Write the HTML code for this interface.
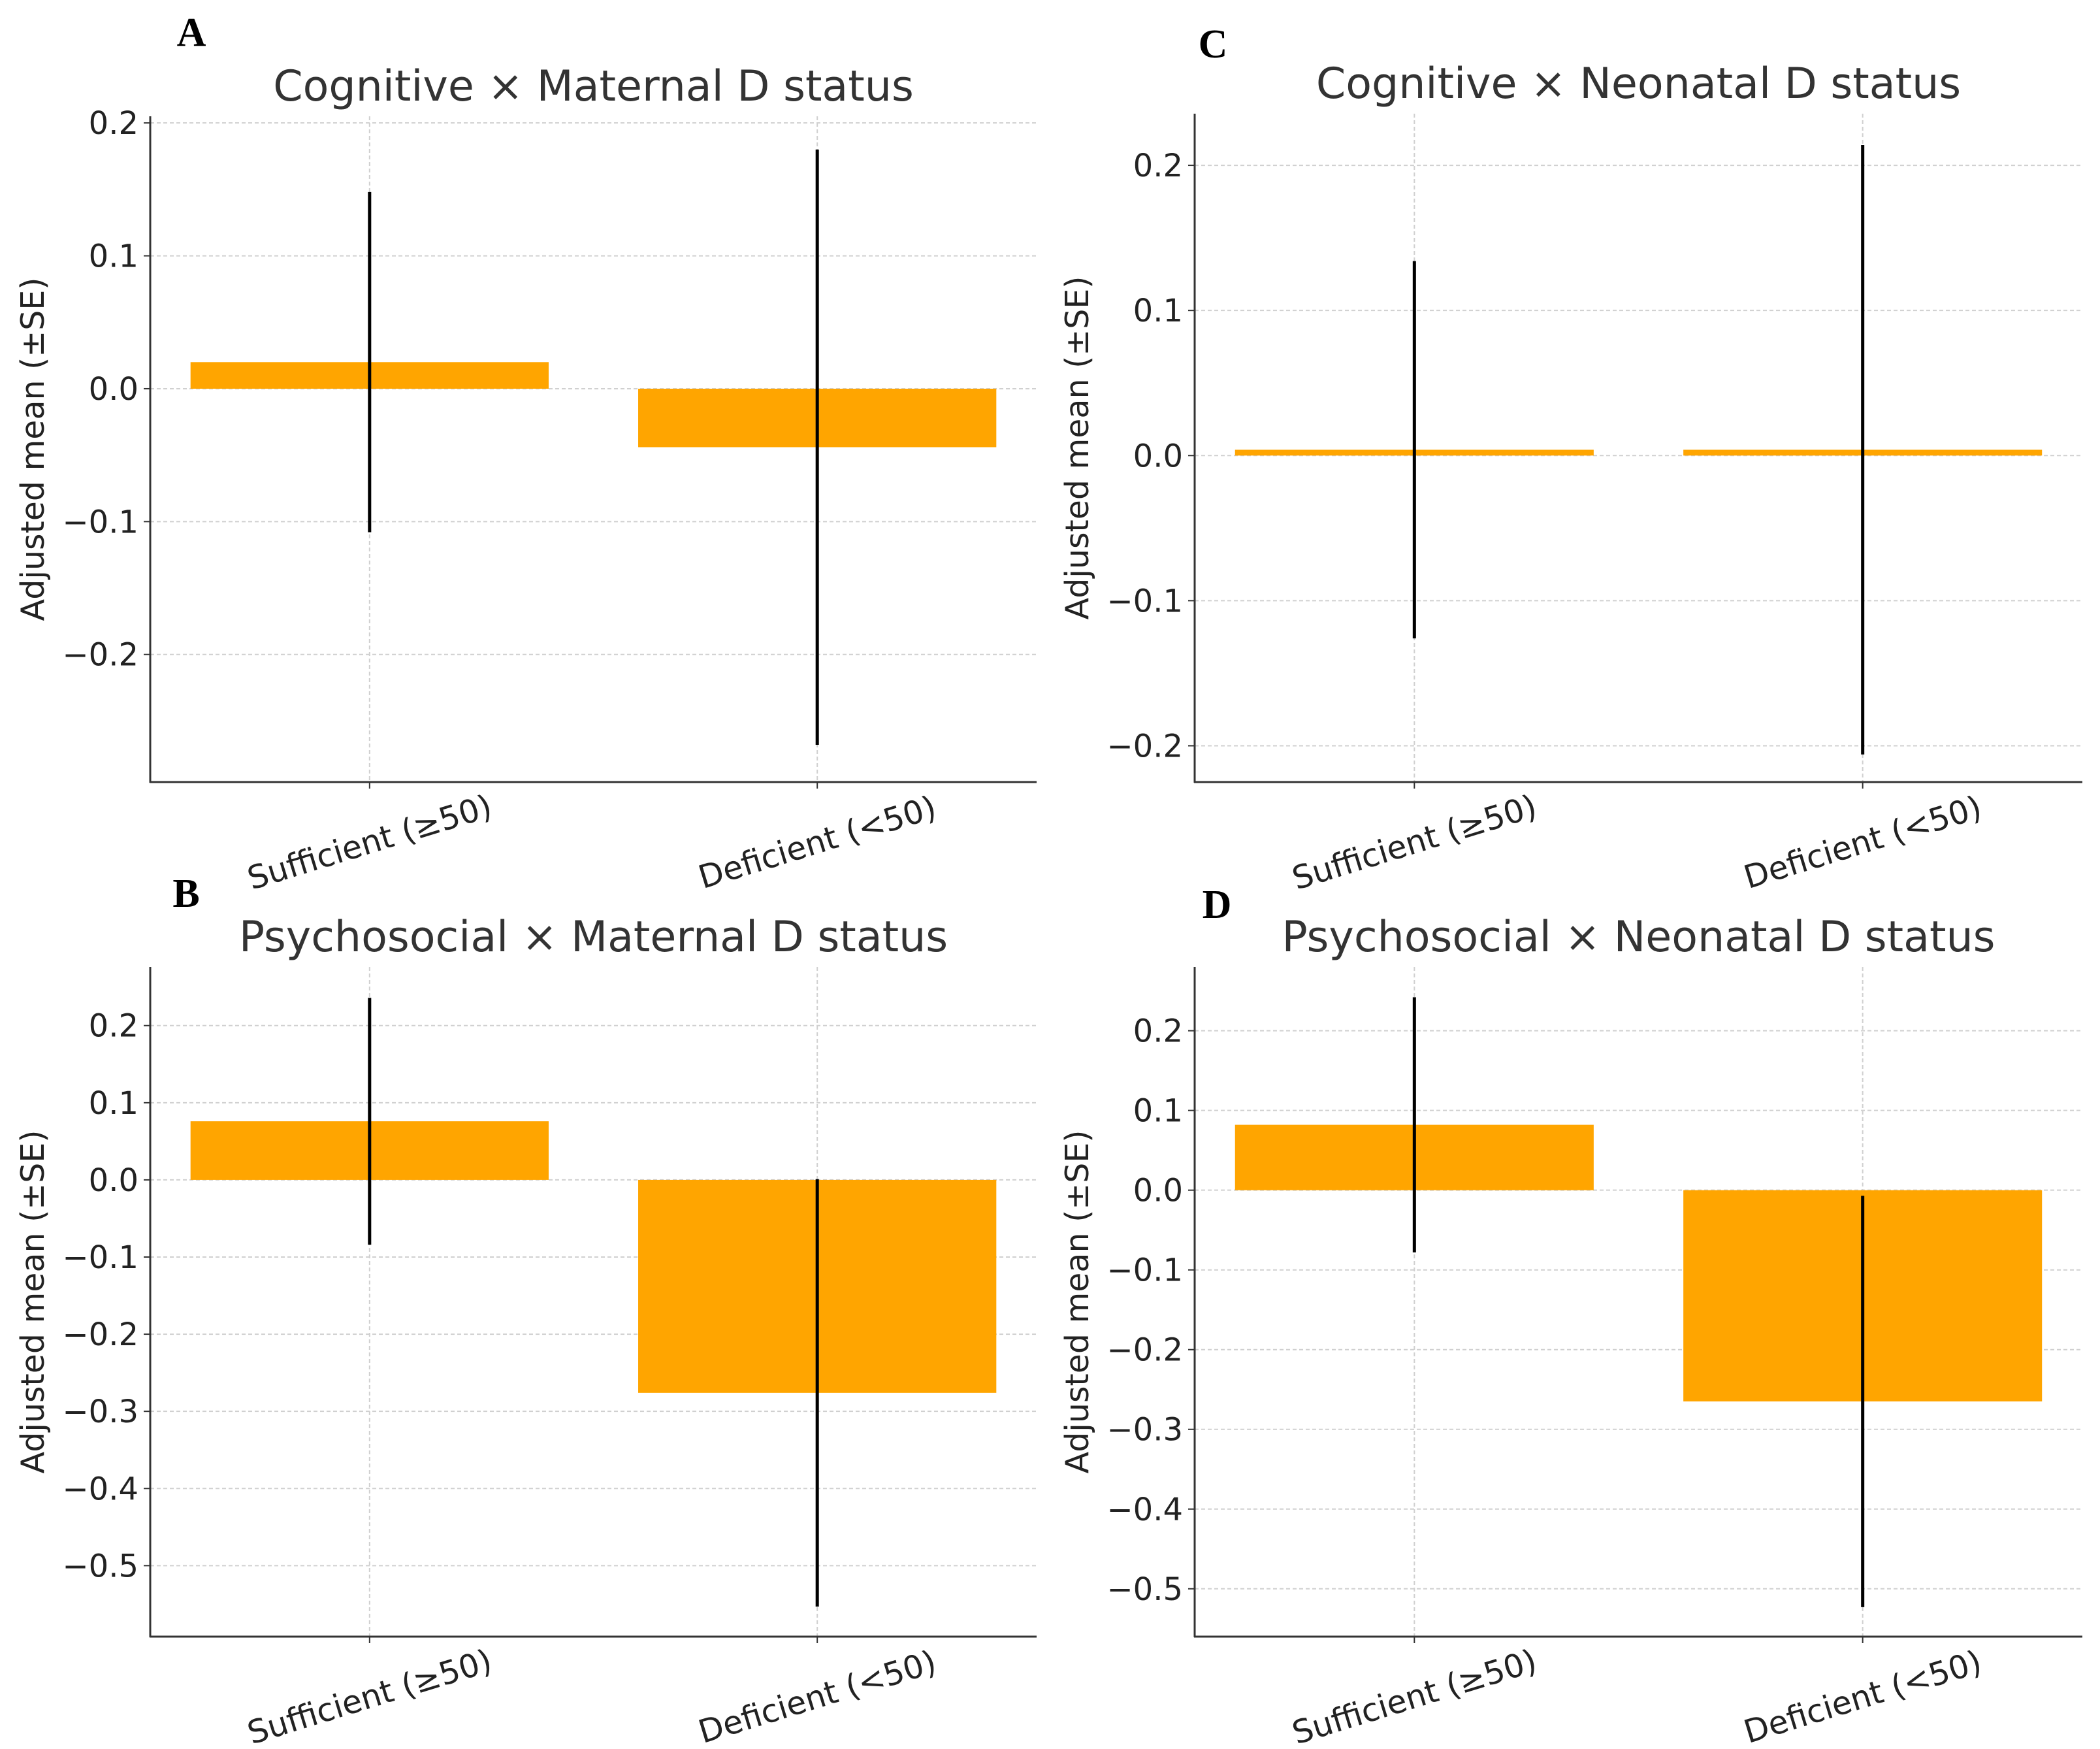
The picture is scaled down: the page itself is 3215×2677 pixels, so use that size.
<!DOCTYPE html>
<html><head><meta charset="utf-8"><style>
html,body{margin:0;padding:0;background:#fff;}
svg{display:block;font-family:"DejaVu Sans","Liberation Sans",sans-serif;}
</style></head><body>
<svg id="fig" width="3215" height="2677" viewBox="0 0 3215 2677" xmlns="http://www.w3.org/2000/svg"></svg>
<script>
// ---- data ----
const categories = ["Sufficient (\u226550)", "Deficient (<50)"];
const titlesArr = ["Cognitive \u00d7 Maternal D status","Psychosocial \u00d7 Maternal D status","Cognitive \u00d7 Neonatal D status","Psychosocial \u00d7 Neonatal D status"];
const letters = ["A","B","C","D"];
const meansA = [0.020, -0.044];
const seA = [0.128, 0.224];
const meansB = [0.076, -0.276];
const seB = [0.160, 0.277];
const meansC = [0.004, 0.004];
const seC = [0.130, 0.210];
const meansD = [0.082, -0.265];
const seD = [0.160, 0.258];
const ticksA = [-0.2,-0.1,0.0,0.1,0.2];
const ticksB = [-0.5,-0.4,-0.3,-0.2,-0.1,0.0,0.1,0.2];
const ticksC = [-0.2,-0.1,0.0,0.1,0.2];
const ticksD = [-0.5,-0.4,-0.3,-0.2,-0.1,0.0,0.1,0.2];
const tickLabelsA = ["\u22120.2","\u22120.1","0.0","0.1","0.2"];
const tickLabelsB = ["\u22120.5","\u22120.4","\u22120.3","\u22120.2","\u22120.1","0.0","0.1","0.2"];
const tickLabelsC = ["\u22120.2","\u22120.1","0.0","0.1","0.2"];
const tickLabelsD = ["\u22120.5","\u22120.4","\u22120.3","\u22120.2","\u22120.1","0.0","0.1","0.2"];

const NS="http://www.w3.org/2000/svg";
const svg=document.getElementById('fig');
function mk(tag,attrs,parent){const e=document.createElementNS(NS,tag);for(const k in attrs)e.setAttribute(k,attrs[k]);(parent||svg).appendChild(e);return e;}

const panels=[
 {key:'a',L:230,R:1587,T:178,B:1197,yd:[-0.296,0.205],means:meansA,se:seA,ticks:ticksA,tl:tickLabelsA,title:titlesArr[0],letter:letters[0],lx:293,ly:70},
 {key:'b',L:230,R:1587,T:1480,B:2505,yd:[-0.592,0.276],means:meansB,se:seB,ticks:ticksB,tl:tickLabelsB,title:titlesArr[1],letter:letters[1],lx:285,ly:1388},
 {key:'c',L:1829,R:3188,T:174,B:1197,yd:[-0.225,0.2356],means:meansC,se:seC,ticks:ticksC,tl:tickLabelsC,title:titlesArr[2],letter:letters[2],lx:1857,ly:88},
 {key:'d',L:1829,R:3188,T:1480,B:2505,yd:[-0.56,0.28],means:meansD,se:seD,ticks:ticksD,tl:tickLabelsD,title:titlesArr[3],letter:letters[3],lx:1863,ly:1405}
];
const xd=[-0.49,1.49];

panels.forEach(p=>{
  const g=mk('g',{});
  
  
  const X=v=>p.L+(v-xd[0])/(xd[1]-xd[0])*(p.R-p.L);
  const Y=v=>p.B-(v-p.yd[0])/(p.yd[1]-p.yd[0])*(p.B-p.T);
  p.ticks.forEach((t,i)=>{
    const y=Y(t);
    const gl=mk('line',{x1:p.L,x2:p.R,y1:y,y2:y,stroke:'#d0d0d0','stroke-width':2,'stroke-dasharray':'6,4'},g);
    
    
    const tk=mk('line',{x1:p.L-10,x2:p.L,y1:y,y2:y,stroke:'#333','stroke-width':2},g);
    
    
    const tx=mk('text',{x:p.L-18,y:y+17,'text-anchor':'end','font-size':48,fill:'#222'},g);
    tx.textContent=p.tl[i];
    
    
  });
  categories.forEach((c,i)=>{
    const x=X(i);
    const gl=mk('line',{x1:x,x2:x,y1:p.T,y2:p.B,stroke:'#d0d0d0','stroke-width':2,'stroke-dasharray':'6,4'},g);
    
    
  });
  p.means.forEach((m,i)=>{
    const x0=X(i-0.4), x1=X(i+0.4);
    const y0=Y(Math.max(m,0)), y1=Y(Math.min(m,0));
    const r=mk('rect',{x:x0,y:y0,width:x1-x0,height:Math.max(y1-y0,1),fill:'#FFA500'},g);
    
    
  });
  p.means.forEach((m,i)=>{
    const x=X(i);
    const e=mk('line',{x1:x,x2:x,y1:Y(m+p.se[i]),y2:Y(m-p.se[i]),stroke:'#000','stroke-width':5},g);
    
    
  });
  const sl=mk('line',{x1:p.L,x2:p.L,y1:p.T,y2:p.B+1,stroke:'#333','stroke-width':3},g);
  
  
  const sb=mk('line',{x1:p.L-1,x2:p.R,y1:p.B,y2:p.B,stroke:'#333','stroke-width':3},g);
  
  
  categories.forEach((c,i)=>{
    const x=X(i);
    const tk=mk('line',{x1:x,x2:x,y1:p.B,y2:p.B+10,stroke:'#333','stroke-width':2},g);
    
    
    const ty=p.B+92;
    const t=mk('text',{x:x,y:ty+17,'text-anchor':'middle','font-size':49,fill:'#222',transform:`rotate(-17 ${x} ${ty})`},g);
    t.textContent=c;
    
    
  });
  const yl=(p.T+p.B)/2;
  const yx=p.L-180;
  const ylab=mk('text',{x:yx,y:yl+17,'text-anchor':'middle','font-size':49,fill:'#222',transform:`rotate(-90 ${yx} ${yl})`},g);
  ylab.textContent='Adjusted mean (\u00b1SE)';
  
  
  const ti=mk('text',{x:(p.L+p.R)/2,y:p.T-24,'text-anchor':'middle','font-size':65,fill:'#333'},g);
  ti.textContent=p.title;
  
  
  const le=mk('text',{x:p.lx,y:p.ly,'text-anchor':'middle','font-size':62,'font-weight':'bold','font-family':'"Liberation Serif",serif',fill:'#000'},g);
  le.textContent=p.letter;
  
  
});
</script>
</body></html>
